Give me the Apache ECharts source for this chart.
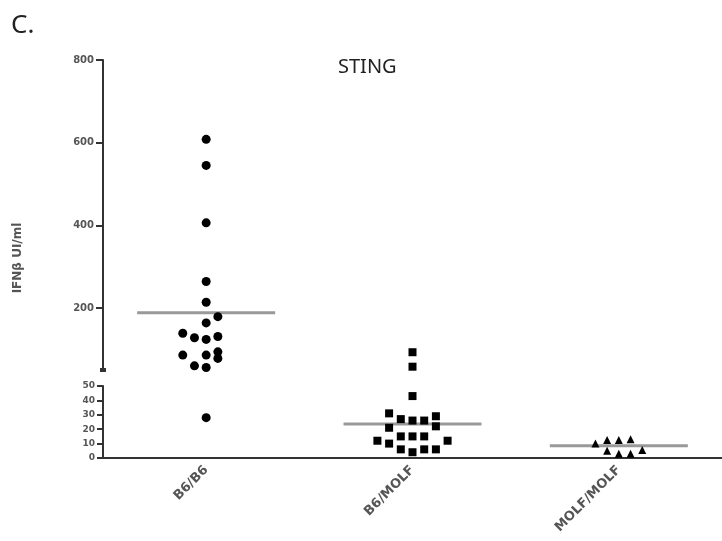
<!DOCTYPE html>
<html><head><meta charset="utf-8">
<script src="https://cdn.jsdelivr.net/npm/echarts@6/dist/echarts.min.js"></script>
<style>html,body{margin:0;padding:0;background:#fff}#c{width:722px;height:541px}</style>
</head><body><div id="c"></div>
<script>
// ---- data ----
const categories = ['B6/B6', 'B6/MOLF', 'MOLF/MOLF'];
const upperTicks = [200, 400, 600, 800];
const lowerTicks = [0, 10, 20, 30, 40, 50];
const b6b6Values   = [608, 545, 406, 264, 214, 179, 164, 139, 128, 124, 131, 86, 86, 94, 78, 60, 56, 28];
const b6b6Slots    = [0, 0, 0, 0, 0, 1, 0, -2, -1, 0, 1, -2, 0, 1, 1, -1, 0, 0];
const b6molfValues = [93, 58, 43, 31, 27, 26, 26, 29, 21, 22, 15, 15, 15, 12, 10, 12, 6, 4, 6, 6];
const b6molfSlots  = [0, 0, 0, -2, -1, 0, 1, 2, -2, 2, -1, 0, 1, -3, -2, 3, -1, 0, 1, 2];
const molfValues   = [10, 12.5, 12.5, 13, 5, 3, 3, 5.5];
const molfSlots    = [-2, -1, 0, 1, -1, 0, 1, 2];
const means = [188.6, 23.6, 8.5];
const breakValue = 50;

// ---- build ----
const STEP = 11.7;
const groups = [
  {values: b6b6Values, slots: b6b6Slots, symbol: 'circle', size: 9},
  {values: b6molfValues, slots: b6molfSlots, symbol: 'rect', size: 8},
  {values: molfValues, slots: molfSlots, symbol: 'triangle', size: 8}
];
const series = [];
groups.forEach((g, gi) => {
  const up = [], low = [];
  g.values.forEach((v, i) => {
    const item = {value: [categories[gi], v], symbolOffset: [g.slots[i] * STEP, 0]};
    (v >= breakValue ? up : low).push(item);
  });
  [[up, 0], [low, 1]].forEach(([d, idx]) => {
    series.push({type: 'scatter', xAxisIndex: idx, yAxisIndex: idx, data: d,
      symbol: g.symbol, symbolSize: g.size, itemStyle: {color: '#000', opacity: 1}, z: 3, silent: true});
  });
});
const meanUp = [], meanLow = [];
means.forEach((m, i) => (m >= breakValue ? meanUp : meanLow).push([categories[i], m]));
[[meanUp, 0], [meanLow, 1]].forEach(([d, idx]) => {
  series.push({type: 'scatter', xAxisIndex: idx, yAxisIndex: idx, data: d, symbol: 'rect',
    symbolSize: [138, 3], itemStyle: {color: '#999', opacity: 1}, z: 2, silent: true});
});

const axisLine = {show: true, lineStyle: {color: '#333', width: 2}};
const chart = echarts.init(document.getElementById('c'));
chart.setOption({
  animation: false,
  backgroundColor: '#fff',
  title: {text: 'STING', left: 333, top: 52,
    textStyle: {fontFamily: 'Noto Sans', fontWeight: 'normal', fontSize: 20, color: '#222'}},
  graphic: [
    {type: 'text', left: 11, top: 13, style: {text: 'C.', fontFamily: 'Noto Sans', fontSize: 26, fill: '#222'}},
    {type: 'text', x: 18, y: 258, rotation: Math.PI / 2,
      style: {text: 'IFNβ UI/ml', fontFamily: 'DejaVu Sans', fontWeight: 'bold', fontSize: 12,
        fill: '#555', align: 'center', verticalAlign: 'middle'}}
  ],
  grid: [
    {left: 103, top: 60, height: 310, width: 626},
    {left: 103, top: 386, height: 72, width: 626}
  ],
  xAxis: [
    {type: 'category', gridIndex: 0, data: categories, show: false},
    {type: 'category', gridIndex: 1, data: categories,
      axisLine: axisLine,
      axisTick: {alignWithLabel: true, length: 7, lineStyle: {color: '#333', width: 2}},
      axisLabel: {rotate: 45, margin: 10, fontFamily: 'DejaVu Sans', fontWeight: 'bold',
        fontSize: 13, color: '#555'}}
  ],
  yAxis: [
    {type: 'value', gridIndex: 0, min: 50, max: 800,
      axisLine: Object.assign({symbol: ['rect', 'none'], symbolSize: [6, 4]}, axisLine),
      splitLine: {show: false},
      axisTick: {show: true, length: 7, customValues: upperTicks, lineStyle: {color: '#333', width: 2}},
      axisLabel: {customValues: upperTicks, margin: 9, fontFamily: 'DejaVu Sans', fontWeight: 'bold',
        fontSize: 10, color: '#555'}},
    {type: 'value', gridIndex: 1, min: 0, max: 50, interval: 10,
      axisLine: axisLine,
      splitLine: {show: false},
      axisTick: {show: true, length: 6, lineStyle: {color: '#333', width: 2}},
      axisLabel: {margin: 8, fontFamily: 'DejaVu Sans', fontWeight: 'bold', fontSize: 9, color: '#555'}}
  ],
  series: series
});
</script></body></html>
